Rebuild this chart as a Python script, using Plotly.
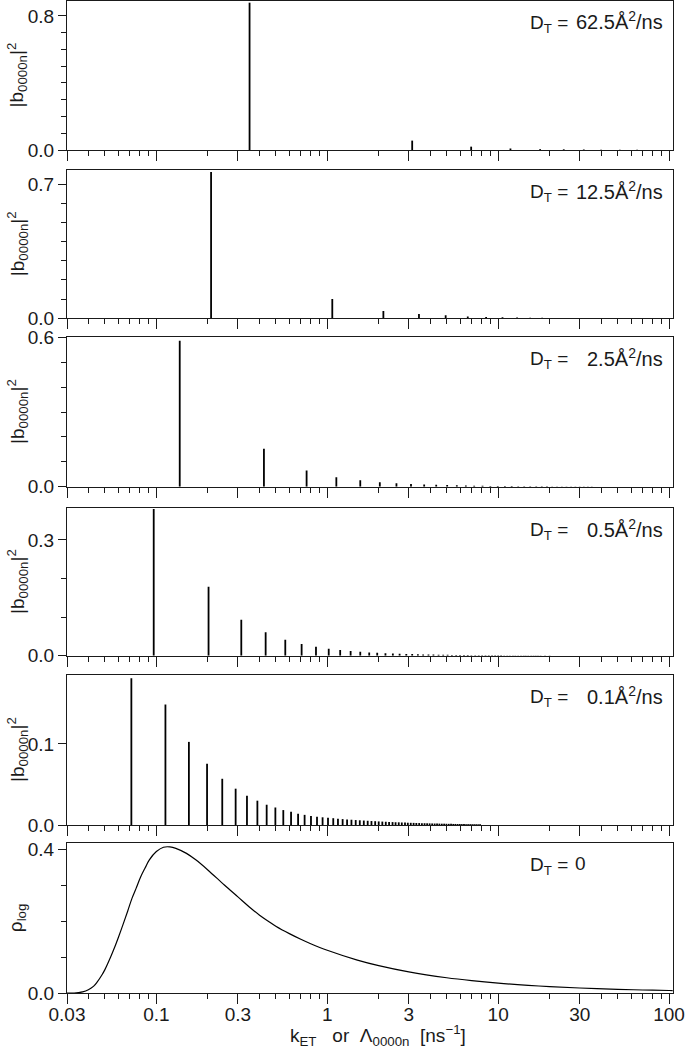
import math
import plotly.graph_objects as go

# ---------------- data ----------------
x_major = [0.03, 0.1, 0.3, 1, 3, 10, 30, 100]
x_major_labels = ["0.03", "0.1", "0.3", "1", "3", "10", "30", "100"]
x_minor = [0.04, 0.05, 0.06, 0.07, 0.08, 0.09, 0.2, 0.4, 0.5, 0.6, 0.7, 0.8, 0.9,
           2, 4, 5, 6, 7, 8, 9, 20, 40, 50, 60, 70, 80, 90]

panel_labels = ["62.5Å<sup>2</sup>/ns", "12.5Å<sup>2</sup>/ns", "2.5Å<sup>2</sup>/ns",
                "0.5Å<sup>2</sup>/ns", "0.1Å<sup>2</sup>/ns", "0"]

# D_T = 62.5
x_d625 = [0.351, 3.14, 6.95, 11.8, 17.6, 24.2, 31.7, 40.0, 51.5, 65.0]
b_d625 = [0.879, 0.056, 0.020, 0.009, 0.005, 0.004, 0.003, 0.002, 0.0015, 0.001]

# D_T = 12.5
x_d125 = [0.209, 1.07, 2.13, 3.44, 4.93, 6.64, 8.5, 10.6, 12.9, 15.4, 18.1, 21.0,
          24.1, 27.4, 30.9, 34.6, 38.5, 42.6, 46.9, 51.4, 56.1, 61.0]
b_d125 = [0.762, 0.100, 0.038, 0.023, 0.016, 0.010, 0.007, 0.005, 0.004, 0.003, 0.0025,
          0.002, 0.0018, 0.0015, 0.0013, 0.0011, 0.001, 0.0009, 0.0008, 0.0007, 0.0006, 0.0005]

# D_T = 2.5
x_d25 = [0.137, 0.426, 0.757, 1.13, 1.56, 2.03, 2.54, 3.09, 3.69, 4.34, 5.03, 5.73,
         6.47, 7.24, 8.1, 9.0, 9.95, 10.95, 12.0, 13.1, 14.2, 15.4, 16.7, 18.0, 19.3,
         20.7, 22.1, 23.6, 25.1, 26.7, 28.3, 30.0, 31.7, 33.5, 35.3]
b_d25 = [0.586, 0.152, 0.065, 0.038, 0.026, 0.018, 0.014, 0.011, 0.009, 0.0075, 0.0065,
         0.0055, 0.0048, 0.0042, 0.0037, 0.0033, 0.003, 0.0027, 0.0024, 0.0022, 0.002,
         0.0018, 0.0016, 0.0015, 0.0014, 0.0013, 0.0012, 0.0011, 0.001, 0.0009, 0.0009,
         0.0008, 0.0008, 0.0007, 0.0007]

# D_T = 0.5
x_d05 = [0.0965, 0.202, 0.314, 0.436, 0.568, 0.708, 0.859, 1.02, 1.19, 1.37, 1.56, 1.76,
         1.96, 2.19, 2.42, 2.65, 2.90, 3.14, 3.39, 3.64, 3.91, 4.18, 4.48, 4.77, 5.06,
         5.36, 5.68, 5.98, 6.31, 6.64, 6.97, 7.34, 7.70, 8.06, 8.43, 8.81, 9.21, 9.60,
         10.0, 10.4, 10.85, 11.3, 11.7, 12.2, 12.6, 13.1, 13.6, 14.1, 14.5, 15.0, 15.6,
         16.1, 16.6, 17.1, 17.7, 18.8, 20.0, 21.2, 22.5, 23.8, 25.1, 26.4]
b_d05 = [0.380, 0.179, 0.093, 0.0605, 0.0415, 0.030, 0.023, 0.018, 0.0147, 0.012, 0.0104,
         0.0086, 0.0078, 0.0065, 0.006, 0.0052, 0.0047, 0.0042, 0.0038, 0.0034, 0.0031,
         0.0028, 0.0026, 0.0024, 0.0022, 0.002, 0.0019, 0.0017, 0.0016, 0.0015, 0.0014,
         0.0013, 0.0012, 0.0012, 0.0011, 0.0011, 0.001, 0.001, 0.0009, 0.0009, 0.0008,
         0.0008, 0.0008, 0.0007, 0.0007, 0.0007, 0.0006, 0.0006, 0.0006, 0.0005, 0.0005,
         0.0005, 0.0005, 0.0004, 0.0004, 0.0004, 0.0004, 0.0003, 0.0003, 0.0003, 0.0003,
         0.0003]

# D_T = 0.1
x_d01 = [0.0714, 0.113, 0.155, 0.198, 0.243, 0.291, 0.339, 0.390, 0.442, 0.497, 0.553,
         0.614, 0.675, 0.737, 0.803, 0.871, 0.939, 1.01, 1.084, 1.155, 1.23, 1.306, 1.385,
         1.467, 1.55, 1.636, 1.724, 1.814, 1.907, 2.0, 2.10, 2.20, 2.30, 2.41, 2.51, 2.62,
         2.73, 2.85, 2.96, 3.08, 3.20, 3.32, 3.45, 3.58, 3.71, 3.84, 3.97, 4.11, 4.25,
         4.39, 4.53, 4.68, 4.83, 4.98, 5.14, 5.30, 5.46, 5.62, 5.79, 5.96, 6.13, 6.31,
         6.49, 6.67, 6.86, 7.05, 7.24, 7.44, 7.64, 7.84]
b_d01 = [0.181, 0.1486, 0.1025, 0.0755, 0.0570, 0.0448, 0.0362, 0.0300, 0.0250, 0.0216,
         0.0184, 0.0163, 0.0140, 0.0125, 0.0112, 0.0103, 0.0095, 0.0089, 0.0084, 0.0078,
         0.0073, 0.0069, 0.0065, 0.0061, 0.0058, 0.0055, 0.0052, 0.0049, 0.0047, 0.0044,
         0.0042, 0.0040, 0.0038, 0.0036, 0.0034, 0.0033, 0.0031, 0.0030, 0.0028, 0.0027,
         0.0026, 0.0025, 0.0024, 0.0023, 0.0022, 0.0021, 0.0020, 0.0019, 0.0018, 0.0018,
         0.0017, 0.0016, 0.0016, 0.0015, 0.0014, 0.0014, 0.0013, 0.0013, 0.0012, 0.0012,
         0.0011, 0.0011, 0.0010, 0.0010, 0.0010, 0.0009, 0.0009, 0.0009, 0.0008, 0.0008]

# D_T = 0 : continuous distribution rho_log
x_rho = [0.030, 0.033, 0.035, 0.037, 0.040, 0.043, 0.045, 0.048, 0.050, 0.054, 0.057,
         0.060, 0.064, 0.068, 0.072, 0.076, 0.081, 0.086, 0.091, 0.100, 0.110, 0.120,
         0.130, 0.150, 0.170, 0.200, 0.250, 0.300, 0.350, 0.400, 0.450, 0.500, 0.600,
         0.700, 0.800, 1.0, 1.5, 2.0, 3.0, 5.0, 7.0, 10.0, 15.0, 20.0, 30.0, 50.0, 70.0,
         100.0, 105.0]
y_rho = [0.0, 0.0, 0.001, 0.003, 0.009, 0.019, 0.030, 0.050, 0.065, 0.100, 0.127,
         0.155, 0.192, 0.228, 0.263, 0.290, 0.323, 0.348, 0.370, 0.393, 0.405, 0.406,
         0.402, 0.388, 0.370, 0.342, 0.300, 0.267, 0.239, 0.217, 0.200, 0.1857, 0.165,
         0.1494, 0.137, 0.1187, 0.0914, 0.0760, 0.0586, 0.0423, 0.0342, 0.0273, 0.0212,
         0.0178, 0.0139, 0.0103, 0.0084, 0.0069, 0.0067]

# y ranges / labelled ticks of each panel
y_tops = [0.889, 0.773, 0.600, 0.382, 0.185, 0.416]
y_label_vals = [0.8, 0.7, 0.6, 0.3, 0.1, 0.4]
y_minor_vals = [[0.1, 0.2, 0.3, 0.4, 0.5, 0.6, 0.7],
                [0.1, 0.2, 0.3, 0.4, 0.5, 0.6],
                [0.1, 0.2, 0.3, 0.4, 0.5],
                [0.1, 0.2],
                [],
                [0.1, 0.2, 0.3]]

# ---------------- layout geometry ----------------
W, H = 685, 1050
ML, MR, MT, MB = 67, 12, 1, 57
PH = H - MT - MB
PW = W - ML - MR
def ypap(px):
    return (H - MB - px) / PH
def xpap(px):
    return (px - ML) / PW

panel_px = [(1, 150), (170, 318.3), (337.3, 486.7), (508.3, 655.7), (675, 825), (843.3, 993)]

FONT = "Liberation Sans, Arial, sans-serif"
INK = "#1a1a1a"
NB = "\u00a0"

fig = go.Figure()

stem_sets = [(x_d625, b_d625), (x_d125, b_d125), (x_d25, b_d25),
             (x_d05, b_d05), (x_d01, b_d01)]

def stems(xs, ys):
    X, Y = [], []
    for a, b in zip(xs, ys):
        X += [a, a, None]
        Y += [0, b, None]
    return X, Y

for i, (xs, ys) in enumerate(stem_sets):
    X, Y = stems(xs, ys)
    sfx = "" if i == 0 else str(i + 1)
    fig.add_trace(go.Scatter(x=X, y=Y, mode="lines", line=dict(color="black", width=1.8),
                             xaxis="x" + sfx, yaxis="y" + sfx, showlegend=False,
                             hoverinfo="skip"))

fig.add_trace(go.Scatter(x=x_rho, y=y_rho, mode="lines",
                         line=dict(color="black", width=1.2, shape="spline", smoothing=1.0),
                         xaxis="x6", yaxis="y6", showlegend=False))

xr = [math.log10(0.03), 2.023]
layout = {}
for i in range(6):
    sfx = "" if i == 0 else str(i + 1)
    top_px, bot_px = panel_px[i]
    dom = [max(0.0, ypap(bot_px)), min(1.0, ypap(top_px))]
    layout["xaxis" + sfx] = dict(
        type="log", range=xr, domain=[0, 1], anchor="y" + sfx, automargin=False,
        showline=True, mirror=True, linecolor=INK, linewidth=1,
        ticks="outside", ticklen=10, tickwidth=1, tickcolor=INK,
        tickmode="array", tickvals=x_major, ticktext=x_major_labels,
        showticklabels=(i == 5), showgrid=False, zeroline=False,
        ticklabelstandoff=-6,
        tickfont=dict(family=FONT, size=19, color=INK),
        minor=dict(tickmode="array", tickvals=x_minor, ticks="outside", ticklen=5,
                   tickwidth=1, tickcolor=INK, showgrid=False),
    )
    layout["yaxis" + sfx] = dict(
        range=[0, y_tops[i]], domain=dom, anchor="x" + sfx, automargin=False,
        showline=True, mirror=True, linecolor=INK, linewidth=1,
        ticks="outside", ticklen=8, tickwidth=1, tickcolor=INK,
        tickmode="array", tickvals=[0, y_label_vals[i]],
        ticktext=["0.0", "%.1f" % y_label_vals[i]],
        showgrid=False, zeroline=False,
        tickfont=dict(family=FONT, size=19, color=INK),
        minor=dict(tickmode="array", tickvals=y_minor_vals[i], ticks="outside",
                   ticklen=5, tickwidth=1, tickcolor=INK, showgrid=False),
    )

annotations = []
for i in range(6):
    top_px, bot_px = panel_px[i]
    mid = (top_px + bot_px) / 2
    title = "|b<sub>0000n</sub>|<sup>2</sup>" if i < 5 else "ρ<sub>log</sub>"
    annotations.append(dict(text=title, xref="paper", yref="paper",
                            x=xpap(17), y=ypap(mid), xanchor="center", yanchor="middle",
                            textangle=-90, showarrow=False,
                            font=dict(family=FONT, size=19, color=INK)))
    annotations.append(dict(text="D<sub>T</sub> =", xref="paper", yref="paper",
                            x=xpap(528), y=ypap(top_px + 23), xanchor="left", yanchor="middle",
                            showarrow=False, font=dict(family=FONT, size=19, color=INK)))
    if i < 5:
        annotations.append(dict(text=panel_labels[i], xref="paper", yref="paper",
                                x=xpap(665), y=ypap(top_px + 20), xanchor="right",
                                yanchor="middle", showarrow=False,
                                font=dict(family=FONT, size=20, color=INK)))
    else:
        annotations.append(dict(text=panel_labels[i], xref="paper", yref="paper",
                                x=xpap(573), y=ypap(top_px + 20), xanchor="left",
                                yanchor="middle", showarrow=False,
                                font=dict(family=FONT, size=19, color=INK)))

xtitle = ("k<sub>ET</sub>" + NB * 3 + "or" + NB * 2 + "Λ<sub>0000n</sub>" + NB * 2
          + "[ns<sup>−1</sup>]")
annotations.append(dict(text=xtitle, xref="paper", yref="paper", x=xpap(378), y=ypap(1035),
                        xanchor="center", yanchor="middle", showarrow=False,
                        font=dict(family=FONT, size=19, color=INK)))

fig.update_layout(width=W, height=H, margin=dict(l=ML, r=MR, t=MT, b=MB, autoexpand=False),
                  paper_bgcolor="white", plot_bgcolor="white",
                  font=dict(family=FONT, size=19, color=INK),
                  annotations=annotations, showlegend=False, **layout)

fig.write_html("out.html", config={"displayModeBar": False, "staticPlot": True},
               post_script="document.body.style.margin='0';document.body.style.overflow='hidden';")
